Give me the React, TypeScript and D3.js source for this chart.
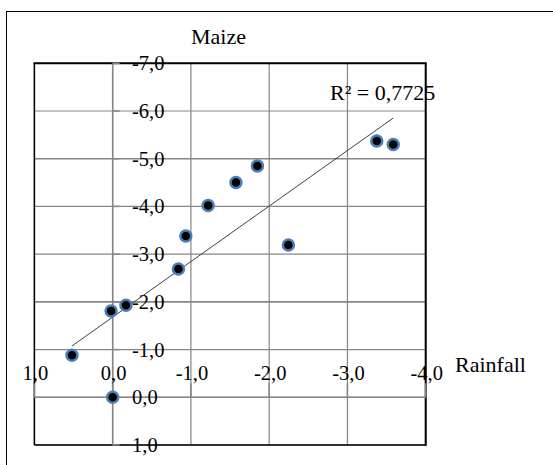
import React from "react";
import * as d3 from "d3";

const rainfall = [0.52, 0.0, 0.02, -0.17, -0.84, -0.935, -1.22, -1.575, -1.85, -2.245, -3.375, -3.585];
const maize = [-0.88, 0.0, -1.81, -1.93, -2.69, -3.38, -4.02, -4.5, -4.85, -3.19, -5.37, -5.3];
const xTicks = [1, 0, -1, -2, -3, -4];
const yTicks = [-7, -6, -5, -4, -3, -2, -1, 0, 1];
const r2Label = "R² = 0,7725";
const xTitle = "Rainfall";
const yTitle = "Maize";

const fmt = (v: number) => v.toFixed(1).replace(".", ",").replace("-0,0", "0,0");

export default function App() {
  const W = 553, H = 465;
  const left = 34.4, right = 425.7, top = 63.3, bottom = 445;
  const x = d3.scaleLinear().domain([1, -4]).range([left, right]);
  const y = d3.scaleLinear().domain([-7, 1]).range([top, bottom]);

  const n = rainfall.length;
  const mx = d3.mean(rainfall)!;
  const my = d3.mean(maize)!;
  let sxy = 0, sxx = 0;
  for (let i = 0; i < n; i++) {
    sxy += (rainfall[i] - mx) * (maize[i] - my);
    sxx += (rainfall[i] - mx) ** 2;
  }
  const slope = sxy / sxx;
  const icpt = my - slope * mx;
  const [xmin, xmax] = d3.extent(rainfall) as [number, number];
  const trend = d3.line<number>().x((d) => x(d)).y((d) => y(slope * d + icpt))([xmax, xmin]);

  const grid = "#868686";
  const serif = "'Liberation Serif', 'Times New Roman', serif";
  const x0 = x(0), y0 = y(0);

  return (
    <svg width={W} height={H} style={{ position: "absolute", left: 0, top: 0, background: "#fff" }}>
      <rect x={6.5} y={11.5} width={700} height={600} fill="#fff" stroke="#000" strokeWidth={1} />
      {/* gridlines */}
      {xTicks.map((t) => (
        <line key={"vx" + t} x1={x(t)} x2={x(t)} y1={top} y2={bottom} stroke={grid} strokeWidth={1.2} />
      ))}
      {yTicks.map((t) => (
        <line key={"hy" + t} x1={left} x2={right} y1={y(t)} y2={y(t)} stroke={grid} strokeWidth={t === -5 || t === -2 ? 1.6 : 1.2} />
      ))}
      {/* plot border */}
      <line x1={left} x2={left} y1={top} y2={bottom} stroke="#000" strokeWidth={1.5} />
      <line x1={left} x2={right} y1={bottom} y2={bottom} stroke="#000" strokeWidth={1.5} />
      <line x1={left - 1} x2={right + 1} y1={top} y2={top} stroke="#000" strokeWidth={2} />
      <line x1={right} x2={right} y1={top} y2={bottom + 1} stroke="#000" strokeWidth={2} />
      {/* axis lines and ticks */}
      <line x1={x0} x2={x0} y1={top} y2={bottom} stroke={grid} strokeWidth={1.5} />
      <line x1={left} x2={right} y1={y0} y2={y0} stroke={grid} strokeWidth={1.5} />
      {xTicks.map((t) => (
        <line key={"tx" + t} x1={x(t)} x2={x(t)} y1={y0} y2={y0 - 14} stroke={grid} strokeWidth={1.5} />
      ))}
      {yTicks.map((t) => (
        <line key={"ty" + t} x1={x0} x2={x0 + 7} y1={y(t)} y2={y(t)} stroke={grid} strokeWidth={1.5} />
      ))}
      {/* tick labels */}
      {yTicks.map((t) => (
        <text key={"ly" + t} x={132} y={y(t) + 7} fontFamily={serif} fontSize={20.5} fill="#000">
          {fmt(t)}
        </text>
      ))}
      {xTicks.map((t) => (
        <text key={"lx" + t} x={x(t) + 1} y={380} fontFamily={serif} fontSize={20.5} textAnchor="middle" fill="#000">
          {fmt(t)}
        </text>
      ))}
      {/* trendline */}
      <path d={trend || ""} fill="none" stroke="#404040" strokeWidth={1} />
      {/* points */}
      {rainfall.map((v, i) => (
        <circle key={"p" + i} cx={x(v)} cy={y(maize[i])} r={5.5} fill="#000" stroke="#4a7ebb" strokeWidth={2.5} />
      ))}
      {/* titles */}
      <text x={218.5} y={44} fontFamily={serif} fontSize={22} textAnchor="middle" fill="#000">{yTitle}</text>
      <text x={455} y={371.5} fontFamily={serif} fontSize={22} fill="#000">{xTitle}</text>
      <text x={330} y={100} fontFamily={serif} fontSize={22} fill="#000">{r2Label}</text>
    </svg>
  );
}
